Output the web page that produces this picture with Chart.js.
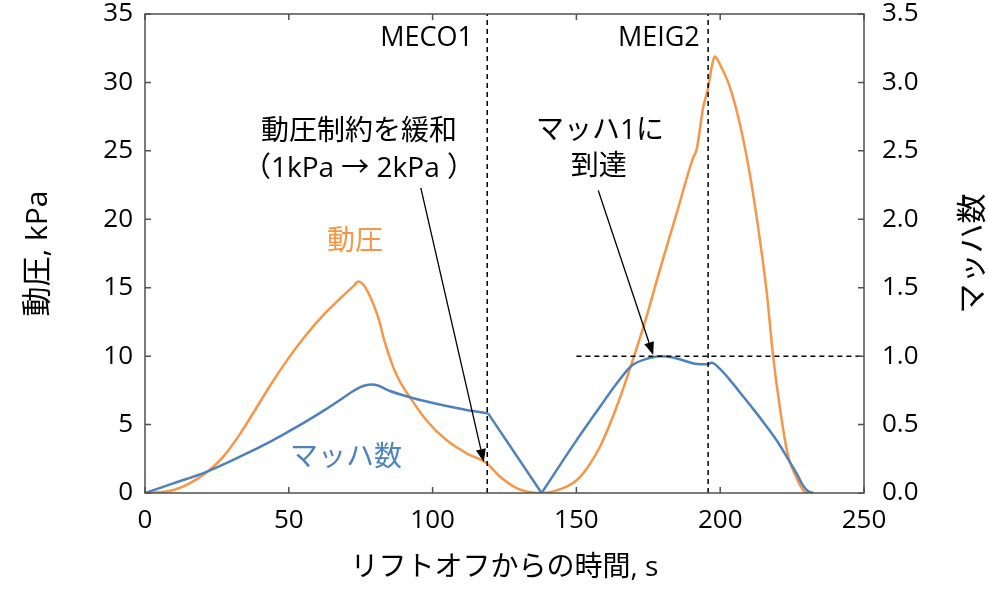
<!DOCTYPE html>
<html><head><meta charset="utf-8">
<script src="https://cdn.jsdelivr.net/npm/chart.js@4/dist/chart.umd.min.js"></script>
<style>html,body{margin:0;padding:0;background:#fff}#wrap{width:988px;height:589px}</style>
</head><body><div id="wrap"><canvas id="c" width="988" height="589"></canvas></div>
<script>
// ---- data ----
const timeQ = [0,5,10,15,21.4,27,33,38.8,44.6,50.4,56.2,62,67.8,72.4,74.2,76,77.5,79.4,81.7,83,86.3,89,92.1,97.9,104.9,111.8,118.8,123.4,129.2,133,137.6,142,146.6,150.2,154,158.2,164,169.2,174.4,179,184.8,190.6,191.8,194.1,195.8,197,198.1,200.4,203.3,206.8,210.3,213.8,216.1,218.4,220.7,223.6,225.9,228.8,230.5,232.3];
const dynPressure = [0,0.05,0.22,0.65,1.5,2.6,4.3,6.25,8.2,10.0,11.6,13.0,14.2,15.1,15.45,15.2,14.7,13.8,12.4,11.3,9.2,8.0,7.0,5.3,3.85,2.9,2.17,1.2,0.35,0.1,0,0.12,0.46,0.95,1.9,3.38,6.3,9.45,12.9,16.3,20.4,24.5,25.1,28.2,29.6,31.1,31.9,31.1,29.7,27.0,23.3,18.5,14.8,10.0,6.3,2.7,1.4,0.22,0,0];
const timeM = [0,9.8,21.4,33,44.6,50,56.2,62,67.8,72,74.7,76.5,78.8,81,85.2,92.1,97.9,104.9,111.8,119.3,137.9,150.2,158.2,164,169.2,174.4,179,183.6,187,191.2,195.8,197,200,204,208,212,216,219.6,223,226.5,228.8,230.5,232.3];
const machNumber = [0,0.07,0.155,0.265,0.387,0.45,0.525,0.6,0.68,0.74,0.772,0.785,0.792,0.785,0.745,0.7,0.668,0.635,0.607,0.582,0,0.39,0.63,0.8,0.93,0.98,1.0,0.99,0.97,0.945,0.94,0.952,0.905,0.81,0.705,0.6,0.49,0.385,0.27,0.145,0.055,0.015,0];
const xTicks = [0,50,100,150,200,250];
const leftTicks = [0,5,10,15,20,25,30,35];
const rightTicks = [0,0.5,1.0,1.5,2.0,2.5,3.0,3.5];
const eventTimes = [119, 195.8];            // MECO1, MEIG2
const eventLabels = ['MECO1', 'MEIG2'];
const machRefTime = [150, 250];
const machRefValue = [1.0, 1.0];
// Mach curve has sharp corners at MECO1 (index 19) and at zero Mach (index 20)
const machBreaks = [19, 20];

const ORANGE = '#F79646', BLUE = '#4F81BD';
const FONT = "'Open Sans','Noto Sans CJK JP',sans-serif";

const annotations = [
  {text: eventLabels[0], x: 114, y: 33.2, align: 'right', color: '#000', size: 27},
  {text: eventLabels[1], x: 192.9, y: 33.2, align: 'right', color: '#000', size: 27},
  {text: '動圧制約を緩和', x: 74.4, y: 26.4, align: 'center', color: '#000', size: 28},
  {text: '（1kPa → 2kPa ）', x: 74.4, y: 23.7, align: 'center', color: '#000', size: 28},
  {text: 'マッハ1に', x: 158.2, y: 26.44, align: 'center', color: '#000', size: 28},
  {text: '到達', x: 157.8, y: 23.8, align: 'center', color: '#000', size: 28},
  {text: '動圧', x: 73, y: 18.33, align: 'center', color: ORANGE, size: 28},
  {text: 'マッハ数', x: 69.9, y: 2.56, align: 'center', color: BLUE, size: 28}
];
const arrows = [
  {from: [95.9, 22.3], to: [117.8, 2.26]},
  {from: [157.6, 22.1], to: [176.7, 10.08]}
];

const pts = (xs, ys) => xs.map((x, i) => ({x, y: ys[i]}));
const machPts = pts(timeM, machNumber);
const machA = machPts.slice(0, machBreaks[0] + 1);
const machB = machPts.slice(machBreaks[0], machBreaks[1] + 1);
const machC = machPts.slice(machBreaks[1]);

const decor = {
  id: 'decor',
  afterDatasetsDraw(chart) {
    const {ctx, chartArea: a, scales} = chart;
    const sx = scales.x, sy = scales.y, sy1 = scales.y1;
    ctx.save();
    ctx.strokeStyle = '#505050'; ctx.lineWidth = 1.5;
    ctx.strokeRect(a.left, a.top, a.right - a.left, a.bottom - a.top);
    const L = 6;
    ctx.beginPath();
    xTicks.forEach(v => { const p = sx.getPixelForValue(v);
      ctx.moveTo(p, a.bottom); ctx.lineTo(p, a.bottom - L);
      ctx.moveTo(p, a.top); ctx.lineTo(p, a.top + L); });
    leftTicks.forEach(v => { const p = sy.getPixelForValue(v);
      ctx.moveTo(a.left, p); ctx.lineTo(a.left + L, p); });
    rightTicks.forEach(v => { const p = sy1.getPixelForValue(v);
      ctx.moveTo(a.right, p); ctx.lineTo(a.right - L, p); });
    ctx.stroke();
    ctx.strokeStyle = '#000'; ctx.fillStyle = '#000'; ctx.lineWidth = 1.3;
    arrows.forEach(ar => {
      const x0 = sx.getPixelForValue(ar.from[0]), y0 = sy.getPixelForValue(ar.from[1]);
      const x1 = sx.getPixelForValue(ar.to[0]), y1 = sy.getPixelForValue(ar.to[1]);
      const ang = Math.atan2(y1 - y0, x1 - x0), hl = 13, hw = 5;
      const bx = x1 - hl * Math.cos(ang), by = y1 - hl * Math.sin(ang);
      ctx.beginPath(); ctx.moveTo(x0, y0); ctx.lineTo(bx, by); ctx.stroke();
      ctx.beginPath(); ctx.moveTo(x1, y1);
      ctx.lineTo(bx + hw * Math.sin(ang), by - hw * Math.cos(ang));
      ctx.lineTo(bx - hw * Math.sin(ang), by + hw * Math.cos(ang));
      ctx.closePath(); ctx.fill();
    });
    ctx.textBaseline = 'middle';
    annotations.forEach(t => {
      ctx.font = t.size + 'px ' + FONT; ctx.fillStyle = t.color; ctx.textAlign = t.align;
      ctx.fillText(t.text, sx.getPixelForValue(t.x), sy.getPixelForValue(t.y));
    });
    ctx.translate(973, (a.top + a.bottom) / 2);
    ctx.rotate(-Math.PI / 2);
    ctx.font = '30px ' + FONT; ctx.fillStyle = '#000'; ctx.textAlign = 'center';
    ctx.fillText('マッハ数', 0, 0);
    ctx.restore();
  }
};

const dashed = {borderColor: '#000', borderWidth: 1.5, borderDash: [5, 4], pointRadius: 0};
const machStyle = {yAxisID: 'y1', borderColor: BLUE, borderWidth: 2.5, pointRadius: 0};

Chart.defaults.font.family = FONT;
new Chart(document.getElementById('c'), {
  type: 'line',
  data: {
    datasets: [
      Object.assign({data: pts([eventTimes[0], eventTimes[0]], [0, 35]), yAxisID: 'y'}, dashed),
      Object.assign({data: pts([eventTimes[1], eventTimes[1]], [0, 35]), yAxisID: 'y'}, dashed),
      Object.assign({data: pts(machRefTime, machRefValue), yAxisID: 'y1'}, dashed),
      Object.assign({data: machA, cubicInterpolationMode: 'monotone'}, machStyle),
      Object.assign({data: machB, tension: 0}, machStyle),
      Object.assign({data: machC, cubicInterpolationMode: 'monotone'}, machStyle),
      {data: pts(timeQ, dynPressure), yAxisID: 'y', borderColor: ORANGE, borderWidth: 2.5, pointRadius: 0, cubicInterpolationMode: 'monotone'}
    ]
  },
  options: {
    responsive: false, animation: false, devicePixelRatio: 1,
    layout: {padding: {top: 14, left: 0, right: 0, bottom: 0}},
    plugins: {legend: {display: false}, tooltip: {enabled: false}},
    scales: {
      x: {type: 'linear', min: 0, max: 250,
        afterBuildTicks: s => { s.ticks = xTicks.map(v => ({value: v})); },
        ticks: {color: '#000', font: {size: 26}, padding: 12, maxRotation: 0},
        grid: {display: false, drawTicks: false}, border: {display: false},
        title: {display: true, text: 'リフトオフからの時間, s', color: '#000', font: {size: 28}, padding: {top: 4, bottom: 4}},
        afterFit: s => { s.height = 96; s.paddingLeft = 0; s.paddingRight = 0; }
      },
      y: {position: 'left', min: 0, max: 35,
        afterBuildTicks: s => { s.ticks = leftTicks.map(v => ({value: v})); },
        ticks: {color: '#000', font: {size: 26}, padding: 12},
        grid: {display: false, drawTicks: false}, border: {display: false},
        title: {display: true, text: '動圧, kPa', color: '#000', font: {size: 30}, padding: {top: 20, bottom: 20}},
        afterFit: s => { s.width = 145; s.paddingTop = 0; s.paddingBottom = 0; }
      },
      y1: {position: 'right', min: 0, max: 3.5,
        afterBuildTicks: s => { s.ticks = rightTicks.map(v => ({value: v})); },
        ticks: {color: '#000', font: {size: 26}, padding: 18, callback: v => Number(v).toFixed(1)},
        grid: {display: false, drawTicks: false}, border: {display: false},
        afterFit: s => { s.width = 124; s.paddingTop = 0; s.paddingBottom = 0; }
      }
    }
  },
  plugins: [decor]
});
</script></body></html>
